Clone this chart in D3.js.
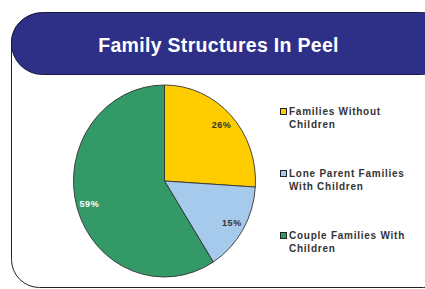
<!DOCTYPE html>
<html><head><meta charset="utf-8">
<script src="https://cdn.jsdelivr.net/npm/d3@7"></script>
<style>body{margin:0;background:#fff;}svg{display:block;}</style>
</head><body>
<svg id="c" width="425" height="289"></svg>
<script>
const title = "Family Structures In Peel";
const categories = ["Families Without Children", "Lone Parent Families With Children", "Couple Families With Children"];
const legendLines = [["Families Without", "Children"], ["Lone Parent Families", "With Children"], ["Couple Families With", "Children"]];
const values = [26, 15, 59];
const colors = ["#FFCC00", "#A6CAEC", "#339966"];
const labelColors = ["#333333", "#333333", "#FFFFFF"];

const svg = d3.select("#c");
svg.append("rect").attr("x", 11.5).attr("y", 14).attr("width", 440).attr("height", 273.5)
  .attr("rx", 28).attr("fill", "#fff").attr("stroke", "#222").attr("stroke-width", 1);
svg.append("rect").attr("x", 11.5).attr("y", 12.5).attr("width", 440).attr("height", 62)
  .attr("rx", 31).attr("fill", "#2E3087").attr("stroke", "#1a1a40").attr("stroke-width", 1);
svg.append("text").attr("x", 218.5).attr("y", 52).attr("text-anchor", "middle")
  .attr("font-family", "Liberation Sans, Arial, sans-serif").attr("font-weight", "bold")
  .attr("font-size", 19.5).attr("letter-spacing", 0.3).attr("fill", "#fff").text(title);

const cx = 164.5, cy = 181, rx = 91, ry = 96;
const pie = d3.pie().sort(null).value(d => d)(values);
const arc = d3.arc().innerRadius(0).outerRadius(1);
const g = svg.append("g").attr("transform", `translate(${cx},${cy})`);
g.selectAll("path").data(pie).join("path")
  .attr("d", arc).attr("transform", `scale(${rx},${ry})`)
  .attr("fill", (d, i) => colors[i]).attr("stroke", "#333").attr("stroke-width", 0.9)
  .attr("vector-effect", "non-scaling-stroke");
const lab = d3.arc().innerRadius(0.86).outerRadius(0.86);
g.selectAll("text").data(pie).join("text")
  .attr("x", d => lab.centroid(d)[0] * rx).attr("y", d => lab.centroid(d)[1] * ry + 3.2)
  .attr("text-anchor", "middle").attr("font-family", "Liberation Sans, Arial, sans-serif")
  .attr("font-weight", "bold").attr("font-size", 9).attr("letter-spacing", 0.6)
  .attr("fill", (d, i) => labelColors[i]).text(d => d.data + "%");

const legY = [115, 177, 239];
const lg = svg.append("g");
categories.forEach((c, i) => {
  lg.append("rect").attr("x", 280.5).attr("y", legY[i] - 6.5).attr("width", 6).attr("height", 6)
    .attr("fill", colors[i]).attr("stroke", "#222").attr("stroke-width", 1);
  const t = lg.append("text").attr("font-family", "Liberation Sans, Arial, sans-serif")
    .attr("font-weight", "bold").attr("font-size", 10).attr("letter-spacing", 0.75).attr("fill", "#333");
  legendLines[i].forEach((l, j) => t.append("tspan").attr("x", 289).attr("y", legY[i] + j * 12.5).text(l));
});
</script>
</body></html>
